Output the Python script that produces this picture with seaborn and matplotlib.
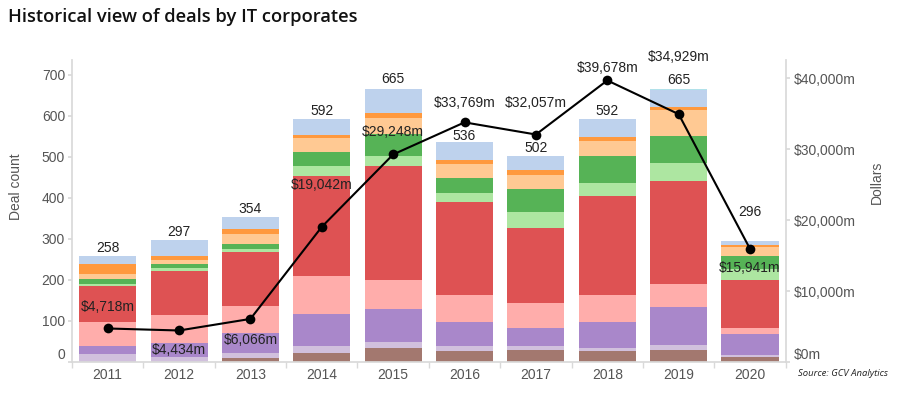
import numpy as np
import pandas as pd
import seaborn as sns
import matplotlib.pyplot as plt
from matplotlib.ticker import FuncFormatter

# 1. Data (deal counts per segment, bottom to top)
years = [2011, 2012, 2013, 2014, 2015, 2016, 2017, 2018, 2019, 2020]
brown = [0, 0, 9, 23, 33, 27, 29, 27, 30, 13]
light_purple = [19, 11, 12, 16, 16, 12, 10, 6, 11, 4]
purple = [20, 36, 49, 79, 81, 59, 45, 65, 92, 51]
light_red = [59, 68, 67, 92, 69, 66, 59, 65, 57, 16]
red = [88, 106, 132, 243, 278, 227, 184, 242, 251, 116]
light_green = [5, 8, 7, 24, 24, 20, 38, 32, 44, 27]
green = [12, 11, 12, 34, 54, 38, 57, 65, 65, 31]
light_orange = [11, 8, 23, 35, 41, 34, 33, 37, 64, 22]
orange = [26, 11, 12, 8, 10, 10, 12, 10, 8, 4]
light_blue = [18, 38, 31, 38, 59, 43, 35, 43, 41, 10]
teal = [0, 0, 0, 0, 0, 0, 0, 0, 2, 2]

# deal value in $m (line)
dollars = [4718, 4434, 6066, 19042, 29248, 33769, 32057, 39678, 34929, 15941]

# 2. Long format for seaborn (order: top of stack first)
layers = {
    'teal': (teal, '#b1e1ea'),
    'light_blue': (light_blue, '#bed2ed'),
    'orange': (orange, '#ff993e'),
    'light_orange': (light_orange, '#ffc993'),
    'green': (green, '#56b356'),
    'light_green': (light_green, '#ade6a1'),
    'red': (red, '#de5253'),
    'light_red': (light_red, '#ffadab'),
    'purple': (purple, '#a987ca'),
    'light_purple': (light_purple, '#d1c0dd'),
    'brown': (brown, '#a3786f'),
}
rows = []
for name, (vals, _) in layers.items():
    for y, v in zip(years, vals):
        rows.append({'year': y, 'segment': name, 'count': v})
df = pd.DataFrame(rows)
palette = {name: c for name, (_, c) in layers.items()}
totals = df.groupby('year')['count'].sum()

# label offsets in pixels (positions only)
count_offsets = [8, 8, 8, 8, 10, 6, 8, 8, 9, 29]
dollar_offsets = [21, -20, -21, 42, 22, 19, 32, 12, 57, -19]

# 3. Style
sns.set_theme(style='white')
plt.rcParams['font.family'] = ['Liberation Sans', 'DejaVu Sans']
grey = '#555555'
spine_c = '#d9d9d9'

fig, ax = plt.subplots(figsize=(9, 3.93), dpi=100)
fig.subplots_adjust(left=0.08, right=0.873, top=0.847, bottom=0.079)

# 4. Stacked bars
sns.histplot(
    data=df, x='year', weights='count', hue='segment',
    hue_order=list(layers.keys()), palette=palette,
    multiple='stack', discrete=True, shrink=0.8,
    alpha=1, linewidth=0, legend=False, ax=ax
)
ax.set_xlim(2010.5, 2020.5)
ax.set_ylim(0, 736)
ax.set_xticks(years)
ax.set_xticklabels([str(y) for y in years])
ax.set_xticks(np.arange(2010.5, 2021, 1.0), minor=True)
ax.set_yticks(range(0, 701, 100))
ax.set_xlabel('')
ax.set_ylabel('')
ax.tick_params(axis='x', which='major', length=0, labelsize=10, labelcolor=grey, pad=4)
ax.tick_params(axis='x', which='minor', length=4, color=spine_c, bottom=True)
ax.tick_params(axis='y', length=3, color=spine_c, labelsize=10, labelcolor=grey, pad=2, left=True)
for s in ['top', 'right']:
    ax.spines[s].set_visible(False)
for s in ['left', 'bottom']:
    ax.spines[s].set_color(spine_c)

for y, off in zip(years, count_offsets):
    ax.annotate(str(totals[y]), (y, totals[y]), xytext=(0, off), textcoords='offset pixels',
                ha='center', va='center', fontsize=10, color='#222222')

# 5. Dollar line on the right axis
ax2 = ax.twinx()
sns.lineplot(x=years, y=dollars, ax=ax2, color='black', linewidth=1.5,
             marker='o', markersize=7, markeredgewidth=0)
ax2.set_ylim(0, 42540)
ax2.set_yticks(range(0, 40001, 10000))
ax2.yaxis.set_major_formatter(FuncFormatter(lambda v, p: f'${v:,.0f}m'))
ax2.tick_params(axis='y', length=3, color=spine_c, labelsize=10, labelcolor=grey, pad=3, right=True)
ax2.set_ylabel('')
for s in ['top', 'left', 'bottom']:
    ax2.spines[s].set_visible(False)
ax2.spines['right'].set_color(spine_c)

for y, v, off in zip(years, dollars, dollar_offsets):
    ax2.annotate(f'${v:,}m', (y, v), xytext=(0, off), textcoords='offset pixels',
                 ha='center', va='center', fontsize=10, color='#222222')

# zero labels sit a little higher, as in the original
ax.get_yticklabels()[0].set_va('bottom')
ax2.get_yticklabels()[0].set_va('bottom')

# 6. Titles and notes
fig.text(8 / 900, 1 - 17 / 393, 'Historical view of deals by IT corporates',
         fontsize=13.2, fontfamily='Open Sans', fontweight='semibold', ha='left', va='center', color='#111111')
fig.text(16 / 900, 1 - 187 / 393, 'Deal count', rotation=90, ha='center', va='center',
         fontsize=10, color=grey)
fig.text(877 / 900, 1 - 182 / 393, 'Dollars', rotation=90, ha='center', va='center',
         fontsize=10, color=grey)
fig.text(888 / 900, 1 - 373 / 393, 'Source: GCV Analytics', fontsize=6.8, fontstyle='italic',
         fontfamily='Open Sans', ha='right', va='center', color='#222222')

fig.savefig('out.png', dpi=100)
